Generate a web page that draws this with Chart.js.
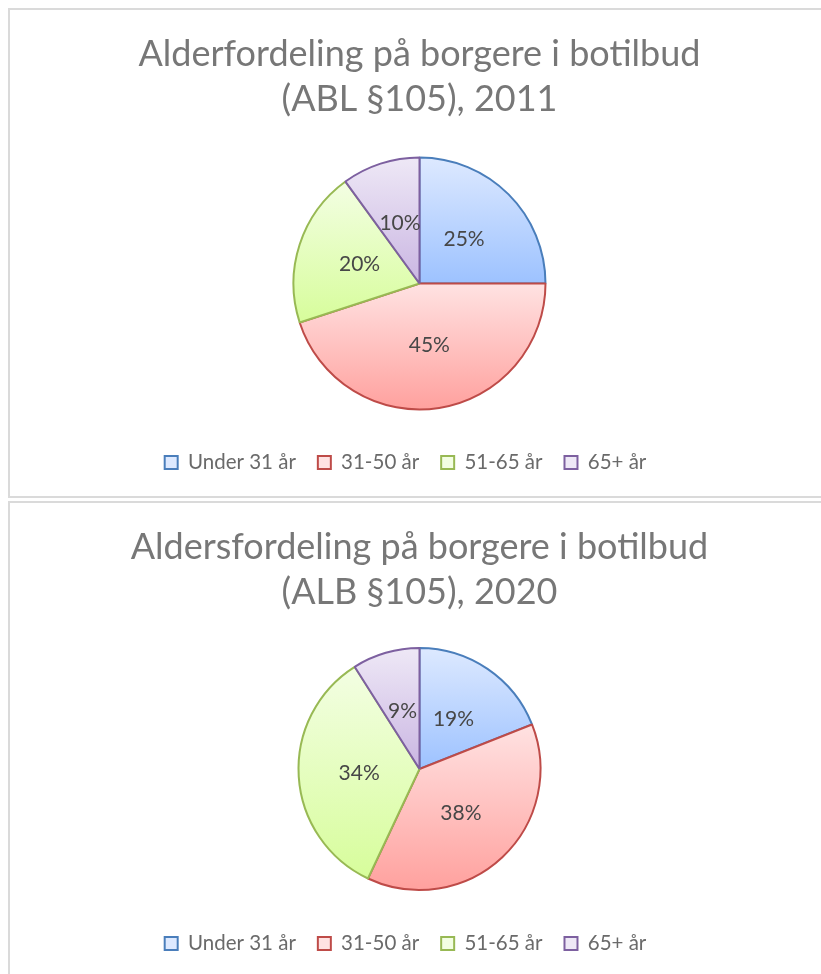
<!DOCTYPE html>
<html lang="da">
<head>
<meta charset="utf-8">
<title>Aldersfordeling på borgere i botilbud</title>
<script src="https://cdn.jsdelivr.net/npm/chart.js@4.4.1/dist/chart.umd.min.js"></script>
<style>
  html, body { margin: 0; padding: 0; background: #fff; overflow: hidden; }
  body { width: 821px; height: 974px; position: relative; }
  .box {
    position: absolute;
    left: 8px;
    width: 823px;
    box-sizing: border-box;
    border: 2px solid #dadada;
    background: #fff;
  }
  #box2011 { top: 8px; height: 490px; }
  #box2020 { top: 501px; height: 478px; }
</style>
</head>
<body>
<div class="box" id="box2011"><canvas id="pie2011"></canvas></div>
<div class="box" id="box2020"><canvas id="pie2020"></canvas></div>

<script>
// ---- Data ----
const categories = ['Under 31 år', '31-50 år', '51-65 år', '65+ år'];
const values2011 = [25, 45, 20, 10];
const values2020 = [19, 38, 34, 9];
const title2011 = ['Alderfordeling på borgere i botilbud', '(ABL §105), 2011'];
const title2020 = ['Aldersfordeling på borgere i botilbud', '(ALB §105), 2020'];

// ---- Colours (light top, dark bottom of each slice, plus outline) ----
const lightFill = ['#dde9ff', '#ffe2e2', '#f3fee3', '#eee8f6'];
const darkFill = ['#9dc2ff', '#ffa19e', '#d7fd9b', '#cab6e2'];
const outline = ['#4a7ebb', '#be4b48', '#98b954', '#7d60a0'];

const FONT = 'Lato, "Open Sans", sans-serif';
const TITLE_GRAY = '#777777';
const LEGEND_GRAY = '#6a6a6a';
const LABEL_GRAY = '#474747';

// vertical gradient over the slice's own height, like the Excel fill
function sliceFill(context) {
  const chart = context.chart;
  const area = chart.chartArea;
  const i = context.dataIndex;
  if (!area) return lightFill[i];
  const data = chart.data.datasets[0].data;
  const total = data.reduce((a, b) => a + b, 0);
  const before = data.slice(0, i).reduce((a, b) => a + b, 0);
  const start = -Math.PI / 2 + 2 * Math.PI * before / total;
  const end = start + 2 * Math.PI * data[i] / total;
  const cy = (area.top + area.bottom) / 2;
  const r = chart.data.datasets[0].radius;
  let minY = cy, maxY = cy;
  for (let t = start; t <= end; t += 0.01) {
    const y = cy + r * Math.sin(t);
    minY = Math.min(minY, y);
    maxY = Math.max(maxY, y);
  }
  const yEnd = cy + r * Math.sin(end);
  minY = Math.min(minY, yEnd);
  maxY = Math.max(maxY, yEnd);
  const g = chart.ctx.createLinearGradient(0, minY, 0, maxY);
  g.addColorStop(0, lightFill[i]);
  g.addColorStop(1, darkFill[i]);
  return g;
}

// percent labels in the middle of each slice
const pctLabels = {
  id: 'pctLabels',
  afterDatasetsDraw(chart) {
    const ctx = chart.ctx;
    const meta = chart.getDatasetMeta(0);
    const data = chart.data.datasets[0].data;
    ctx.save();
    ctx.font = '21px ' + FONT;
    ctx.fillStyle = LABEL_GRAY;
    ctx.textAlign = 'center';
    ctx.textBaseline = 'middle';
    meta.data.forEach((arc, i) => {
      const p = arc.tooltipPosition();
      ctx.fillText(data[i] + '%', p.x, p.y);
    });
    ctx.restore();
  }
};

// Excel puts the legend a bit left of centre
const legendShift = {
  id: 'legendShift',
  afterLayout(chart) {
    chart.legend.left -= 14;
    chart.legend.right -= 14;
  }
};

function makePie(canvasId, titleLines, values, radius, titleGap) {
  return new Chart(document.getElementById(canvasId), {
    type: 'pie',
    data: {
      labels: categories,
      datasets: [{
        data: values,
        radius: radius,
        backgroundColor: sliceFill,
        borderColor: outline,
        borderWidth: 2
      }]
    },
    options: {
      responsive: true,
      maintainAspectRatio: false,
      animation: false,
      layout: { padding: { top: 0, bottom: 13.25, left: 0, right: 0 } },
      plugins: {
        title: {
          display: true,
          text: titleLines,
          color: TITLE_GRAY,
          font: { family: FONT, size: 36, weight: 'normal', lineHeight: 1.25 },
          padding: { top: 22, bottom: titleGap }
        },
        legend: {
          position: 'bottom',
          labels: {
            color: LEGEND_GRAY,
            font: { family: FONT, size: 20.5 },
            boxWidth: 13,
            boxHeight: 13,
            padding: 22,
            generateLabels: (chart) => categories.map((c, i) => ({
              text: c,
              fillStyle: lightFill[i],
              strokeStyle: outline[i],
              lineWidth: 2,
              fontColor: LEGEND_GRAY,
              hidden: false,
              index: i
            }))
          }
        },
        tooltip: { enabled: false }
      }
    },
    plugins: [pctLabels, legendShift]
  });
}

makePie('pie2011', title2011, values2011, 126, 14.75);
makePie('pie2020', title2020, values2020, 121, 11.75);
</script>
</body>
</html>
